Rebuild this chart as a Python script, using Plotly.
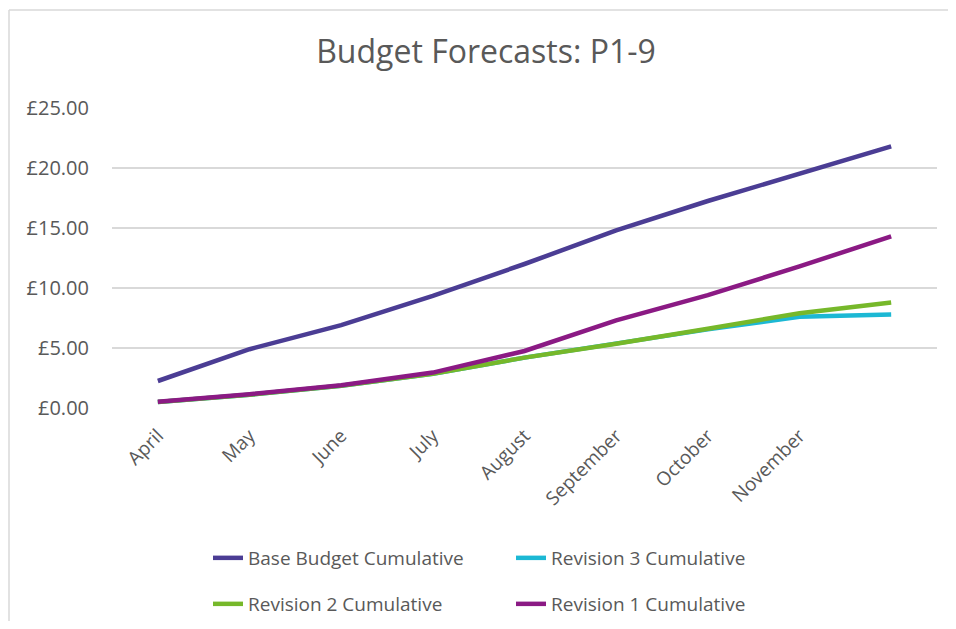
import plotly.graph_objects as go

# months on the category axis (the ninth period has no label in the source)
months = ["April", "May", "June", "July", "August", "September", "October", "November", ""]

base_budget = [2.25, 4.9, 6.9, 9.35, 12.0, 14.8, 17.25, 19.5, 21.8]
revision_3 = [0.5, 1.1, 1.85, 2.85, 4.2, 5.35, 6.55, 7.6, 7.8]
revision_2 = [0.5, 1.1, 1.85, 2.85, 4.2, 5.35, 6.6, 7.9, 8.8]
revision_1 = [0.53, 1.15, 1.9, 2.95, 4.75, 7.3, 9.4, 11.8, 14.3]

TEXT = "#595959"
FONT = "Open Sans"
BORDER = "#d9d9d9"

# (name, values, colour, legend row)
series = [
    ("Base Budget Cumulative", base_budget, "#4B3D94", "legend"),
    ("Revision 3 Cumulative", revision_3, "#1CB8D4", "legend"),
    ("Revision 2 Cumulative", revision_2, "#76B82A", "legend2"),
    ("Revision 1 Cumulative", revision_1, "#8B1A84", "legend2"),
]

# the page body keeps its 8px margin, so the figure is 16px smaller than the window
# and everything is laid out in figure pixels (screen - 8)
W, H = 940, 613
L, T, R, B = 104, 100, 11, 213

idx = list(range(len(months)))

fig = go.Figure()
for name, vals, color, leg in series:
    fig.add_trace(go.Scatter(
        x=idx, y=vals, mode="lines", name=name,
        line=dict(color=color, width=4.5),
        legend=leg,
    ))

# legends sit on the container so they don't push the bottom margin
legend_common = dict(
    orientation="h", xanchor="left", yanchor="middle",
    xref="container", yref="container", x=200 / W,
    font=dict(family=FONT, size=19, color=TEXT),
    entrywidth=258, entrywidthmode="pixels",
    bgcolor="rgba(0,0,0,0)",
)

# chart frame: only the top and left edges are inside the picture
top_y = 1 + (T - 2) / (H - T - B)
left_x = (1 - L) / (W - L - R)
frame = [
    dict(type="line", xref="paper", yref="paper", x0=left_x, x1=1.1, y0=top_y, y1=top_y,
         line=dict(color=BORDER, width=1.5)),
    dict(type="line", xref="paper", yref="paper", x0=left_x, x1=left_x, y0=top_y, y1=-1.0,
         line=dict(color=BORDER, width=1.5)),
]

fig.update_layout(
    width=W, height=H,
    margin=dict(l=L, r=R, t=T, b=B, autoexpand=False),
    paper_bgcolor="white", plot_bgcolor="white",
    font=dict(family=FONT, color=TEXT),
    title=dict(text="Budget Forecasts: P1-9", xref="container", x=478 / W,
               yref="container", y=1 - 44 / H,
               xanchor="center", yanchor="middle",
               font=dict(family=FONT, size=32, color=TEXT)),
    legend=dict(y=1 - 550 / H, **legend_common),
    legend2=dict(y=1 - 596 / H, **legend_common),
    shapes=frame,
)

fig.update_xaxes(
    range=[-0.5, len(months) - 0.5],
    tickvals=idx, ticktext=months, tickangle=-45,
    showgrid=False, zeroline=False, showline=False, ticks="",
    ticklabelstandoff=12,
    tickfont=dict(family=FONT, size=19, color=TEXT),
)
fig.update_yaxes(
    range=[0, 25], dtick=5, tickprefix="£", tickformat=".2f",
    gridcolor=BORDER, gridwidth=1.5, zeroline=False,
    ticks="", ticklabelstandoff=22,
    tickfont=dict(family=FONT, size=20, color=TEXT),
)

fig.write_html("out.html")
